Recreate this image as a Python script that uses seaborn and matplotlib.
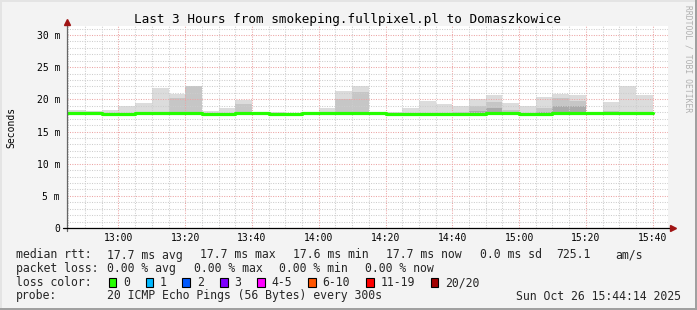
import numpy as np
import pandas as pd
import matplotlib
matplotlib.use("Agg")
import matplotlib.pyplot as plt
from matplotlib.ticker import MultipleLocator, FixedLocator, FixedFormatter
from matplotlib.patches import Rectangle
from matplotlib.lines import Line2D
import seaborn as sns

# ---------------- data ----------------
TITLE = "Last 3 Hours from smokeping.fullpixel.pl to Domaszkowice"
Y_LABEL = "Seconds"
WATERMARK = "RRDTOOL / TOBI OETIKER"

step_start = ["12:45", "12:50", "12:55", "13:00", "13:05", "13:10", "13:15",
              "13:20", "13:25", "13:30", "13:35", "13:40", "13:45", "13:50",
              "13:55", "14:00", "14:05", "14:10", "14:15", "14:20", "14:25",
              "14:30", "14:35", "14:40", "14:45", "14:50", "14:55", "15:00",
              "15:05", "15:10", "15:15", "15:20", "15:25", "15:30", "15:35"]
step_minutes = 5

median_ms = [17.80, 17.80, 17.65, 17.65, 17.80, 17.80, 17.80, 17.80, 17.65, 17.65,
             17.80, 17.80, 17.65, 17.65, 17.80, 17.80, 17.80, 17.80, 17.80, 17.70,
             17.70, 17.70, 17.70, 17.65, 17.65, 17.80, 17.80, 17.70, 17.70, 17.80,
             17.80, 17.80, 17.80, 17.80, 17.80]
smoke_min_ms = [17.55, 17.55, 17.50, 17.50, 17.55, 17.55, 17.55, 17.55, 17.50, 17.50,
                17.55, 17.55, 17.50, 17.50, 17.55, 17.55, 17.55, 17.55, 17.55, 17.50,
                17.50, 17.50, 17.50, 17.50, 17.50, 17.55, 17.55, 17.50, 17.50, 17.55,
                17.55, 17.55, 17.55, 17.55, 17.55]
smoke_max_ms = [18.35, 18.20, 18.35, 19.00, 19.50, 21.80, 20.90, 22.10, 18.20, 18.60,
                19.90, 17.95, 18.05, 17.95, 18.05, 18.70, 21.30, 22.00, 18.00, 18.00,
                18.70, 19.80, 19.30, 18.90, 20.00, 20.70, 19.50, 18.90, 20.40, 20.90,
                20.60, 18.00, 19.60, 22.00, 20.70]
smoke_mid_ms = [np.nan, np.nan, np.nan, np.nan, np.nan, 18.10, 20.20, 22.00, np.nan, np.nan,
                19.30, np.nan, np.nan, np.nan, np.nan, np.nan, 20.00, 21.10, np.nan, np.nan,
                np.nan, np.nan, np.nan, 18.10, 19.00, 19.60, 18.35, np.nan, 18.60, 20.20,
                19.80, np.nan, 18.20, 18.10, np.nan]
smoke_dark_ms = [np.nan, np.nan, np.nan, np.nan, np.nan, np.nan, np.nan, np.nan, np.nan, np.nan,
                 np.nan, np.nan, np.nan, np.nan, np.nan, np.nan, np.nan, np.nan, np.nan, np.nan,
                 np.nan, np.nan, np.nan, np.nan, 18.20, 18.60, np.nan, np.nan, 18.10, 18.90,
                 18.90, np.nan, np.nan, np.nan, np.nan]

xtick_labels = ["13:00", "13:20", "13:40", "14:00", "14:20", "14:40", "15:00", "15:20", "15:40"]
ytick_values = [0, 5, 10, 15, 20, 25, 30]
ytick_labels = ["0", "5 m", "10 m", "15 m", "20 m", "25 m", "30 m"]
x_range = ["12:44:36", "15:44:36"]
y_max_ms = 31.4

rtt_label = "median rtt:"
rtt_stats = ["17.7 ms avg", "17.7 ms max", "17.6 ms min", "17.7 ms now", "0.0 ms sd", "725.1", "am/s"]
loss_label = "packet loss:"
loss_stats = ["0.00 % avg", "0.00 % max", "0.00 % min", "0.00 % now"]
loss_color_label = "loss color:"
loss_classes = ["0", "1", "2", "3", "4-5", "6-10", "11-19", "20/20"]
loss_colors = ["#26ff00", "#00b8ff", "#0059ff", "#7e00ff", "#ff00ff", "#ff5500", "#ff0000", "#a10000"]
probe_label = "probe:"
probe_text = "20 ICMP Echo Pings (56 Bytes) every 300s"
timestamp = "Sun Oct 26 15:44:14 2025"

# ---------------- helpers ----------------
def to_min(s):
    parts = [int(p) for p in s.split(":")]
    m = parts[0] * 60 + parts[1] - 12 * 60
    if len(parts) > 2:
        m += parts[2] / 60.0
    return m

x_start = np.array([to_min(s) for s in step_start], dtype=float)
df = pd.DataFrame({"x": x_start, "median": median_ms, "lo": smoke_min_ms,
                   "hi": smoke_max_ms, "mid": smoke_mid_ms, "dark": smoke_dark_ms})

W, H = 697, 310
def fx(px):
    return px / W
def fy(py):
    return 1 - py / H

# ---------------- figure ----------------
sns.set_theme(style="white")
plt.rcParams["font.family"] = ["DejaVu Sans Mono", "DejaVu Sans"]
BG = "#f3f3f3"
fig = plt.figure(figsize=(W / 100, H / 100), dpi=100, facecolor=BG)

ax_l, ax_r, ax_t, ax_b = 67, 668, 26, 228
ax = fig.add_axes([fx(ax_l), fy(ax_b), (ax_r - ax_l) / W, (ax_b - ax_t) / H])
ax.set_facecolor("white")

# smoke layers
for col, color in [("hi", "#dcdcdc"), ("mid", "#c6c6c6"), ("dark", "#aaaaaa")]:
    sub = df[df[col].notna()]
    ax.bar(sub["x"], sub[col] - sub["lo"], bottom=sub["lo"], width=step_minutes,
           align="edge", color=color, linewidth=0, zorder=1)

# median line (steps), extended to end of last step
line_df = pd.DataFrame({"x": list(x_start) + [x_start[-1] + step_minutes],
                        "median": list(median_ms) + [median_ms[-1]]})
sns.lineplot(data=line_df, x="x", y="median", drawstyle="steps-post",
             color=loss_colors[0], linewidth=2.3, ax=ax, zorder=4)

ax.set_xlim(to_min(x_range[0]), to_min(x_range[1]))
ax.set_ylim(0, y_max_ms)

# grid
ax.xaxis.set_major_locator(FixedLocator([to_min(s) for s in xtick_labels]))
ax.xaxis.set_major_formatter(FixedFormatter(xtick_labels))
ax.xaxis.set_minor_locator(MultipleLocator(5))
ax.yaxis.set_major_locator(FixedLocator(ytick_values))
ax.yaxis.set_major_formatter(FixedFormatter(ytick_labels))
ax.yaxis.set_minor_locator(MultipleLocator(1))
ax.set_axisbelow(False)
ax.grid(which="minor", color="#cdcdcd", linestyle=(0, (1, 1.35)), linewidth=0.75, zorder=2)
ax.grid(which="major", color="#eca4a4", linestyle=(0, (1, 1.35)), linewidth=0.75, zorder=2.5)

ax.tick_params(axis="both", which="both", length=0)
ax.tick_params(axis="x", labelsize=7, pad=3.6, colors="black")
ax.tick_params(axis="y", labelsize=7, pad=5.0, colors="black")
ax.set_xlabel("")
ax.set_ylabel("")
for s in ax.spines.values():
    s.set_visible(False)

# axis lines with arrows
axw, axh = ax_r - ax_l, ax_b - ax_t
ax.add_line(Line2D([0, 0], [-3 / axh, 1 + 2 / axh], transform=ax.transAxes,
                   color="#666666", linewidth=0.9, clip_on=False, zorder=5))
ax.add_line(Line2D([-4 / axw, 1 + 3 / axw], [0, 0], transform=ax.transAxes,
                   color="black", linewidth=0.9, clip_on=False, zorder=5))
ax.plot([0], [1 + 4 / axh], marker="^", markersize=4.2, color="#a01414",
        transform=ax.transAxes, clip_on=False, zorder=6, linestyle="none")
ax.plot([1 + 5 / axw], [0], marker=">", markersize=4.2, color="#a01414",
        transform=ax.transAxes, clip_on=False, zorder=6, linestyle="none")

# texts
fig.text(fx(347.5), fy(19.5), TITLE, ha="center", va="center", fontsize=9.1, color="black")
fig.text(fx(11), fy(127), Y_LABEL, ha="center", va="center", rotation=90, fontsize=7, color="black")
fig.text(fx(688), fy(5), WATERMARK, ha="center", va="top", rotation=-90, fontsize=5.8, color="#b0b0b0")

LF = 8.3
rows = [255, 268.5, 282.5, 296]
fig.text(fx(16), fy(rows[0]), rtt_label, ha="left", va="center", fontsize=LF)
for t, px in zip(rtt_stats, [107.3, 200, 292.6, 386, 479.7, 556.3, 615]):
    fig.text(fx(px), fy(rows[0]), t, ha="left", va="center", fontsize=LF)
fig.text(fx(16), fy(rows[1]), loss_label, ha="left", va="center", fontsize=LF)
for t, px in zip(loss_stats, [107.3, 194.2, 279.3, 364.8]):
    fig.text(fx(px), fy(rows[1]), t, ha="left", va="center", fontsize=LF)
fig.text(fx(16), fy(rows[2]), loss_color_label, ha="left", va="center", fontsize=LF)
box_x = [108.6, 145.6, 182.1, 220.0, 257.0, 308.2, 366.1, 430.7]
lab_x = [123.3, 159.9, 196.8, 234.3, 271.2, 322.5, 380.4, 444.9]
for lab, c, bx, lx in zip(loss_classes, loss_colors, box_x, lab_x):
    fig.patches.append(Rectangle((fx(bx), fy(rows[2] + 4.3)), 7.6 / W, 8.6 / H,
                                 transform=fig.transFigure, facecolor=c,
                                 edgecolor="black", linewidth=0.8))
    fig.text(fx(lx), fy(rows[2]), lab, ha="left", va="center", fontsize=LF)
fig.text(fx(16), fy(rows[3]), probe_label, ha="left", va="center", fontsize=LF)
fig.text(fx(107.3), fy(rows[3]), probe_text, ha="left", va="center", fontsize=LF)
fig.text(fx(681), fy(rows[3]), timestamp, ha="right", va="center", fontsize=LF)

# frame
fig.patches.append(Rectangle((0, 0), 1, 2 / H, transform=fig.transFigure,
                             facecolor="#a0a0a0", linewidth=0))
fig.patches.append(Rectangle((1 - 2 / W, 0), 2 / W, 1, transform=fig.transFigure,
                             facecolor="#a0a0a0", linewidth=0))
fig.patches.append(Rectangle((0, 1 - 2 / H), 1 - 2 / W, 2 / H, transform=fig.transFigure,
                             facecolor="#e4e4e4", linewidth=0))
fig.patches.append(Rectangle((0, 2 / H), 2 / W, 1 - 4 / H, transform=fig.transFigure,
                             facecolor="#e4e4e4", linewidth=0))

fig.savefig("out.png", dpi=100, facecolor=BG)
